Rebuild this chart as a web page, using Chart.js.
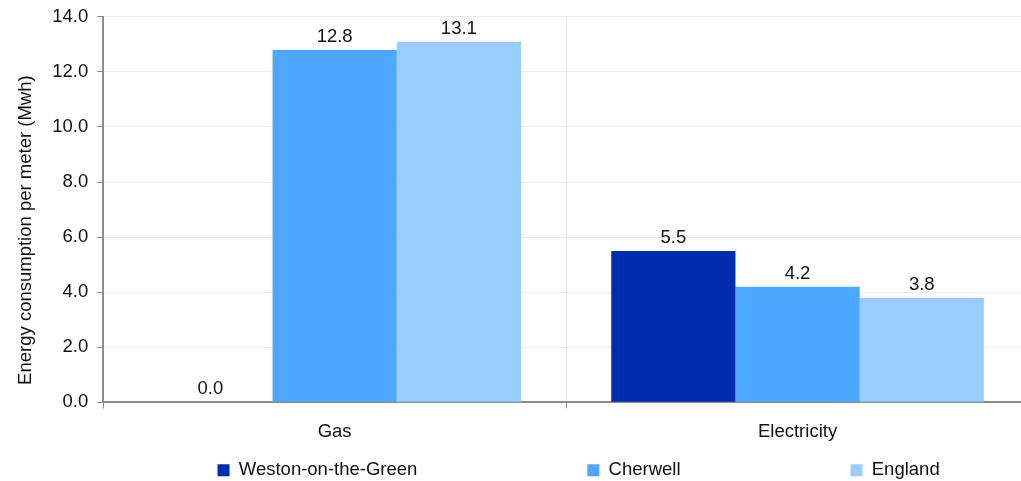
<!DOCTYPE html>
<html>
<head>
<meta charset="utf-8">
<script src="https://cdn.jsdelivr.net/npm/chart.js@4.4.1/dist/chart.umd.min.js"></script>
<style>
  html, body { margin: 0; padding: 0; background: #fff; overflow: hidden; }
  #wrap { width: 1029px; height: 481px; }
</style>
</head>
<body>
<div id="wrap"><canvas id="energyChart"></canvas></div>
<script>
// Données
const categories = ['Gas', 'Electricity'];
const seriesNames = ['Weston-on-the-Green', 'Cherwell', 'England'];
const westonValues = [0.0, 5.5];
const cherwellValues = [12.8, 4.2];
const englandValues = [13.1, 3.8];
const yTickValues = [0, 2, 4, 6, 8, 10, 12, 14];

const colours = ['#002db0', '#4da6ff', '#99ccff'];
const font = '"Liberation Sans", Arial, sans-serif';
const fontSize = 18.5;
const legendGap = ' '.repeat(32);

// valeurs au-dessus des barres
const valueLabels = {
  id: 'valueLabels',
  afterDatasetsDraw(chart) {
    const ctx = chart.ctx;
    ctx.save();
    ctx.font = fontSize + 'px ' + font;
    ctx.fillStyle = '#111';
    ctx.textAlign = 'center';
    ctx.textBaseline = 'alphabetic';
    chart.data.datasets.forEach((ds, i) => {
      chart.getDatasetMeta(i).data.forEach((bar, j) => {
        ctx.fillText(ds.data[j].toFixed(1), bar.x, bar.y - 8);
      });
    });
    ctx.restore();
  }
};

// décale un peu la légende vers la droite
const legendShift = {
  id: 'legendShift',
  afterLayout(chart) {
    chart.legend.left += 25;
  }
};

const ctx = document.getElementById('energyChart');
new Chart(ctx, {
  type: 'bar',
  data: {
    labels: categories,
    datasets: [
      { label: seriesNames[0], data: westonValues, backgroundColor: colours[0] },
      { label: seriesNames[1], data: cherwellValues, backgroundColor: colours[1] },
      { label: seriesNames[2], data: englandValues, backgroundColor: colours[2] }
    ]
  },
  options: {
    responsive: true,
    maintainAspectRatio: false,
    animation: false,
    categoryPercentage: 0.805,
    barPercentage: 1,
    layout: { padding: { top: 0, left: 11, right: 0, bottom: -8.5 } },
    plugins: {
      tooltip: { enabled: false },
      legend: {
        position: 'bottom',
        fullSize: false,
        labels: {
          color: '#111',
          font: { family: font, size: fontSize },
          boxWidth: 12,
          boxHeight: 12,
          padding: 5.5,
          generateLabels(chart) {
            const items = Chart.defaults.plugins.legend.labels.generateLabels(chart);
            items.forEach((it, i) => {
              it.lineWidth = 0;
              if (i < items.length - 1) it.text += legendGap;
            });
            return items;
          }
        }
      }
    },
    scales: {
      x: {
        grid: { color: '#e6e6e6', tickColor: '#8c8c8c', tickLength: 6, offset: true },
        border: { color: '#8c8c8c', width: 2 },
        ticks: { color: '#111', font: { family: font, size: fontSize }, padding: 12.5 }
      },
      y: {
        min: 0,
        max: 14,
        afterBuildTicks: s => { s.ticks = yTickValues.map(v => ({ value: v })); },
        grid: { color: '#ebebeb', tickColor: '#8c8c8c', tickLength: 6 },
        border: { color: '#8c8c8c', width: 2 },
        ticks: {
          color: '#111',
          font: { family: font, size: fontSize, lineHeight: 0.85 },
          padding: 9,
          callback: v => Number(v).toFixed(1)
        },
        title: {
          display: true,
          text: 'Energy consumption per meter (Mwh)' + ' '.repeat(8),
          color: '#111',
          font: { family: font, size: fontSize },
          padding: { top: 4, bottom: 6 }
        }
      }
    }
  },
  plugins: [valueLabels, legendShift]
});
</script>
</body>
</html>
